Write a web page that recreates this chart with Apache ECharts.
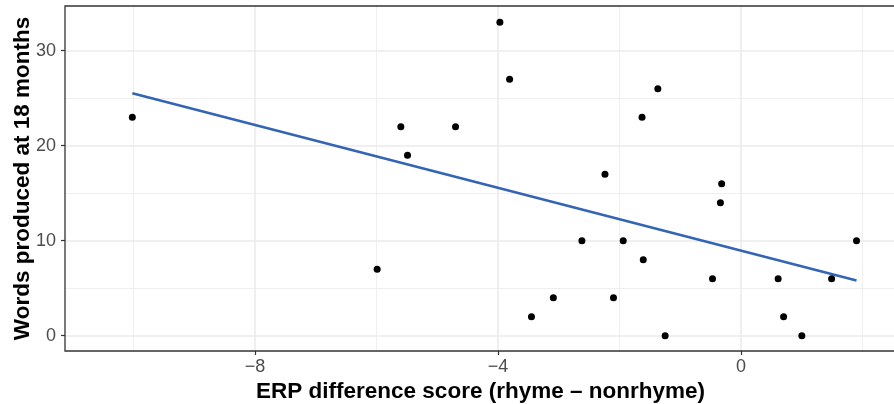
<!DOCTYPE html>
<html>
<head>
<meta charset="utf-8">
<script src="https://cdn.jsdelivr.net/npm/echarts@6/dist/echarts.min.js"></script>
<style>html,body{margin:0;padding:0;background:#fff}#c{width:894px;height:404px}</style>
</head>
<body>
<div id="c"></div>
<script>
// ERP difference score (rhyme - nonrhyme)
var erpScore = [-10.02, -5.99, -5.60, -5.49, -4.70, -3.97, -3.81, -3.45, -3.09, -2.62,
                -2.24, -2.10, -1.94, -1.63, -1.61, -1.37, -1.25, -0.47, -0.34, -0.32,
                0.61, 0.70, 1.00, 1.49, 1.90];
// Words produced at 18 months
var words = [23, 7, 22, 19, 22, 33, 27, 2, 4, 10,
             17, 4, 10, 23, 8, 26, 0, 6, 14, 16,
             6, 2, 0, 6, 10];
var xTicks = [-8, -4, 0];
var yTicks = [0, 10, 20, 30];
var xMinorGrid = [-10, -6, -2, 2];
var yMinorGrid = [5, 15, 25];

var pts = erpScore.map(function(x, i){ return [x, words[i]]; });

// least-squares fit (geom_smooth method = "lm")
var n = erpScore.length, mx = 0, my = 0;
for (var i = 0; i < n; i++) { mx += erpScore[i]; my += words[i]; }
mx /= n; my /= n;
var sxy = 0, sxx = 0;
for (var i = 0; i < n; i++) { sxy += (erpScore[i]-mx)*(words[i]-my); sxx += (erpScore[i]-mx)*(erpScore[i]-mx); }
var slope = sxy / sxx, icpt = my - slope * mx;
var xLo = Math.min.apply(null, erpScore), xHi = Math.max.apply(null, erpScore);
var fit = [[xLo, icpt + slope * xLo], [xHi, icpt + slope * xHi]];

function vLines(vals, w) {
  return vals.map(function(v){ return { xAxis: v, lineStyle: { color: '#EBEBEB', width: w, type: 'solid' } }; });
}
function hLines(vals, w) {
  return vals.map(function(v){ return { yAxis: v, lineStyle: { color: '#EBEBEB', width: w, type: 'solid' } }; });
}

var chart = echarts.init(document.getElementById('c'), null, { renderer: 'canvas' });
chart.setOption({
  animation: false,
  backgroundColor: '#ffffff',
  grid: { left: 65, top: 6, right: -2, bottom: 53, containLabel: false, outerBoundsMode: 'none',
          show: true, borderColor: '#333333', borderWidth: 1.3, backgroundColor: 'transparent', z: 6 },
  xAxis: {
    type: 'value', min: -11.128, max: 2.55,
    name: 'ERP difference score (rhyme \u2013 nonrhyme)',
    nameLocation: 'middle', nameGap: 29, nameMoveOverlap: false,
    nameTextStyle: { fontFamily: 'Liberation Sans', fontWeight: 'bold', fontSize: 22.5, color: '#000000' },
    axisLine: { show: false, onZero: false },
    axisTick: { show: true, customValues: xTicks, length: 4, lineStyle: { color: '#333333', width: 1.2 } },
    axisLabel: { customValues: xTicks, margin: 7, fontFamily: 'Liberation Sans', fontSize: 18, color: '#4D4D4D',
                 formatter: function(v){ return v < 0 ? '\u2212' + Math.abs(v) : String(v); } },
    splitLine: { show: false }
  },
  yAxis: {
    type: 'value', min: -1.61, max: 34.71,
    name: 'Words produced at 18 months',
    nameLocation: 'middle', nameGap: 31, nameMoveOverlap: false,
    nameTextStyle: { fontFamily: 'Liberation Sans', fontWeight: 'bold', fontSize: 22.5, color: '#000000' },
    axisLine: { show: false, onZero: false },
    axisTick: { show: true, customValues: yTicks, length: 4, lineStyle: { color: '#333333', width: 1.2 } },
    axisLabel: { customValues: yTicks, margin: 9, fontFamily: 'Liberation Sans', fontSize: 18, color: '#4D4D4D' },
    splitLine: { show: false }
  },
  series: [
    {
      type: 'line', data: [], silent: true, z: 1,
      markLine: {
        z: 1, silent: true, symbol: ['none', 'none'], label: { show: false }, animation: false,
        emphasis: { disabled: true },
        data: [].concat(vLines(xMinorGrid, 0.8), hLines(yMinorGrid, 0.8), vLines(xTicks, 1.6), hLines(yTicks, 1.6))
      }
    },
    {
      type: 'line', data: fit, showSymbol: false, z: 3, silent: true,
      lineStyle: { color: '#3465B4', width: 2.6 }
    },
    {
      type: 'scatter', data: pts, z: 4, symbol: 'circle', symbolSize: 7,
      itemStyle: { color: '#000000', opacity: 1 }
    }
  ]
});
</script>
</body>
</html>
